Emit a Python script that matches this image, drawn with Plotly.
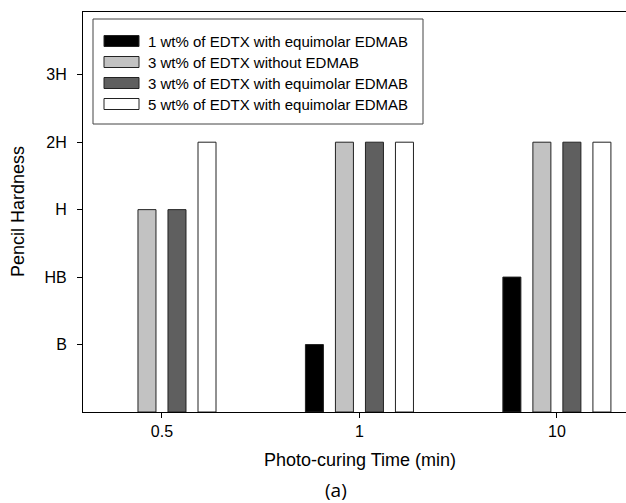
import plotly.graph_objects as go

categories = ["0.5", "1", "10"]
series_names = [
    "1 wt% of EDTX with equimolar EDMAB",
    "3 wt% of EDTX without EDMAB",
    "3 wt% of EDTX with equimolar EDMAB",
    "5 wt% of EDTX with equimolar EDMAB",
]
# hardness levels: B=1, HB=2, H=3, 2H=4, 3H=5 (None = no bar)
s1 = [None, 1, 2]
s2 = [3, 4, 4]
s3 = [3, 4, 4]
s4 = [4, 4, 4]
series_values = [s1, s2, s3, s4]
colors = ["#000000", "#c2c2c2", "#5f5f5f", "#ffffff"]
ytick_vals = [1, 2, 3, 4, 5]
ytick_text = ["B", "HB", "H", "2H", "3H"]

W, H = 626, 503
ML, MR, MT, MB = 83, 0, 12, 91
PW, PH = W - ML - MR, H - MT - MB
FONT = "Liberation Sans, Arial, sans-serif"


def px(x):
    return (x - ML) / PW


def py(y):
    return (H - MB - y) / PH


fig = go.Figure()
for name, vals, col in zip(series_names, series_values, colors):
    fig.add_trace(go.Bar(
        x=categories, y=vals, name=name,
        marker=dict(color=col, line=dict(color="#222222", width=1)),
        showlegend=False,
    ))

shapes = [
    dict(type="rect", xref="paper", yref="paper",
         x0=px(93), x1=px(423), y0=py(124), y1=py(19),
         line=dict(color="#444444", width=1), fillcolor="white", layer="above"),
]
annotations = []
row_y = [41, 62, 83, 104]
for name, col, ry in zip(series_names, colors, row_y):
    shapes.append(dict(type="rect", xref="paper", yref="paper",
                       x0=px(104), x1=px(139), y0=py(ry + 5.5), y1=py(ry - 5.5),
                       line=dict(color="#222222", width=1), fillcolor=col, layer="above"))
    annotations.append(dict(xref="paper", yref="paper", x=px(146), y=py(ry),
                            text=name, showarrow=False, xanchor="left", yanchor="middle",
                            font=dict(family=FONT, size=15, color="black")))

annotations += [
    dict(xref="paper", yref="paper", x=px(18), y=py(212), text="Pencil Hardness",
         textangle=-90, showarrow=False, xanchor="center", yanchor="middle",
         font=dict(family=FONT, size=18, color="black")),
    dict(xref="paper", yref="paper", x=px(360), y=py(460), text="Photo-curing Time (min)",
         showarrow=False, xanchor="center", yanchor="middle",
         font=dict(family=FONT, size=18, color="black")),
    dict(xref="paper", yref="paper", x=px(336), y=py(490), text="(a)",
         showarrow=False, xanchor="center", yanchor="middle",
         font=dict(family="Open Sans, sans-serif", size=19, color="black")),
]

fig.update_layout(
    width=W, height=H,
    margin=dict(l=ML, r=MR, t=MT, b=MB, pad=0),
    paper_bgcolor="white", plot_bgcolor="white",
    barmode="group", bargap=0.392, bargroupgap=0.4,
    showlegend=False,
    shapes=shapes, annotations=annotations,
    font=dict(family=FONT, size=16, color="black"),
    xaxis=dict(type="category", range=[-0.4, 2.35], showline=True, linecolor="black",
               linewidth=1, mirror=True, ticks="outside", ticklen=5, tickcolor="black",
               showgrid=False, zeroline=False, ticklabelstandoff=0,
               tickfont=dict(family=FONT, size=16, color="black")),
    yaxis=dict(range=[0, 5.93], tickvals=ytick_vals, ticktext=ytick_text, showline=True,
               linecolor="black", linewidth=1, ticks="outside", ticklen=5, tickcolor="black",
               showgrid=False, zeroline=False, ticklabelstandoff=7,
               tickfont=dict(family=FONT, size=16, color="black")),
)

fig.write_html("out.html")
